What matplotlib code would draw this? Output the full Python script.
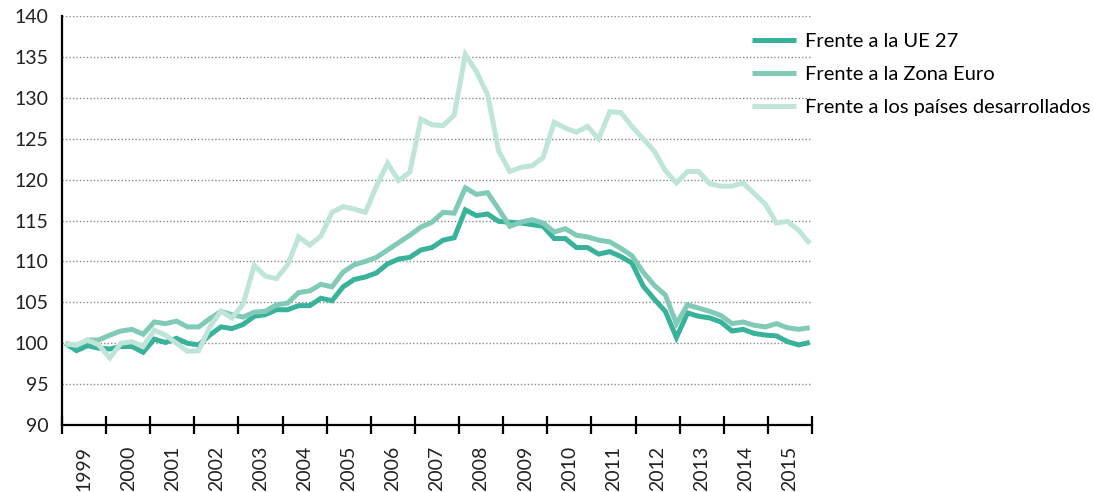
import numpy as np
import matplotlib.pyplot as plt

plt.rcParams['font.family'] = ['Lato', 'DejaVu Sans']

# Datos trimestrales 1999T1 - 2015T4 (base 1999T1 = 100)
anios = [str(a) for a in range(1999, 2016)]

ue27 = [100.0, 99.1, 99.7, 99.4, 99.3, 99.6, 99.6, 98.9,
        100.5, 100.1, 100.6, 100.0, 99.8, 101.0, 102.0, 101.8,
        102.3, 103.3, 103.5, 104.1, 104.1, 104.6, 104.6, 105.5,
        105.2, 106.9, 107.8, 108.1, 108.6, 109.7, 110.3, 110.5,
        111.4, 111.7, 112.6, 112.9, 116.3, 115.6, 115.8, 114.9,
        114.8, 114.7, 114.5, 114.3, 112.8, 112.8, 111.7, 111.7,
        110.9, 111.2, 110.6, 109.8, 107.0, 105.4, 103.9, 100.7,
        103.7, 103.3, 103.1, 102.6, 101.5, 101.7, 101.2, 101.0,
        100.9, 100.2, 99.8, 100.1]

zona_euro = [100.0, 99.7, 100.4, 100.4, 101.0, 101.5, 101.7, 101.1,
             102.6, 102.4, 102.7, 102.0, 102.0, 103.0, 103.9, 103.5,
             103.2, 103.8, 103.9, 104.7, 104.9, 106.2, 106.4, 107.2,
             106.9, 108.7, 109.6, 110.0, 110.5, 111.4, 112.3, 113.2,
             114.2, 114.8, 116.0, 115.9, 119.0, 118.2, 118.4, 116.4,
             114.3, 114.8, 115.1, 114.7, 113.6, 114.0, 113.2, 113.0,
             112.6, 112.4, 111.6, 110.7, 108.7, 107.1, 105.9, 102.4,
             104.7, 104.3, 103.9, 103.4, 102.4, 102.6, 102.2, 102.0,
             102.4, 101.9, 101.7, 101.9]

desarrollados = [99.9, 99.8, 100.4, 99.8, 98.2, 100.0, 100.2, 99.6,
                 101.6, 101.0, 100.0, 99.0, 99.1, 102.0, 103.9, 103.1,
                 104.8, 109.5, 108.2, 107.9, 109.6, 113.0, 112.0, 113.1,
                 116.0, 116.7, 116.4, 116.0, 119.2, 122.0, 119.9, 120.9,
                 127.4, 126.7, 126.6, 127.9, 135.3, 133.2, 130.4, 123.5,
                 121.0, 121.5, 121.7, 122.7, 127.0, 126.3, 125.8, 126.5,
                 125.0, 128.3, 128.2, 126.5, 125.0, 123.5, 121.1, 119.6,
                 121.0, 121.0, 119.5, 119.2, 119.2, 119.6, 118.3, 117.0,
                 114.7, 114.9, 113.8, 112.2]

series = [
    ('Frente a la UE 27', ue27, '#38b299'),
    ('Frente a la Zona Euro', zona_euro, '#82cab8'),
    ('Frente a los países desarrollados', desarrollados, '#bfe4da'),
]

fig = plt.figure(figsize=(10.94, 4.92), dpi=100)
ax = fig.add_axes([0.0567, 0.136, 0.6855, 0.8315])

x = np.arange(len(ue27))
for nombre, valores, color in series:
    ax.plot(x, valores, color=color, linewidth=3.6, label=nombre,
            solid_joinstyle='miter', solid_capstyle='butt')

# eje y
ax.set_ylim(90, 140)
ax.set_yticks(np.arange(90, 141, 5))
ax.tick_params(axis='y', length=0, pad=10, labelsize=14, labelcolor='#222222')
for v in range(95, 141, 5):
    ax.axhline(v, color='#8a8a8a', linewidth=1, linestyle=(0, (1, 1.5)), zorder=0)

# eje x: marcas en los cambios de año, etiquetas centradas
x0, x1 = -0.3, 67.2
ax.set_xlim(x0, x1)
bordes = np.linspace(x0, x1, len(anios) + 1)
ax.set_xticks(bordes)
ax.set_xticklabels([])
ax.tick_params(axis='x', which='major', direction='inout', length=13, width=1.6)
ax.set_xticks((bordes[:-1] + bordes[1:]) / 2, minor=True)
ax.set_xticklabels(anios, minor=True, rotation=90, fontsize=14, color='#222222')
ax.tick_params(axis='x', which='minor', length=0, pad=15)

for lado in ['top', 'right']:
    ax.spines[lado].set_visible(False)
ax.spines['left'].set_linewidth(1.6)
ax.spines['bottom'].set_linewidth(1.6)

fig.legend(loc='upper left', bbox_to_anchor=(0.687, 0.933), frameon=False,
           fontsize=14.5, handlelength=2.2, handletextpad=0.45, labelspacing=0.8,
           borderaxespad=0, borderpad=0)

fig.savefig('out.png', dpi=100)
